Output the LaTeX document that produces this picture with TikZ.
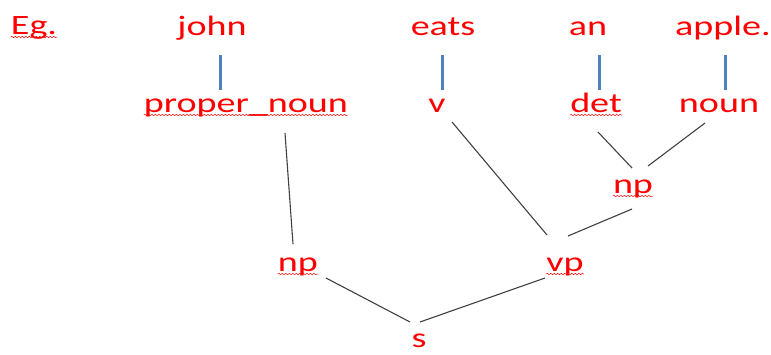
\documentclass[tikz,border=0pt]{standalone}
\usepackage{fontspec}
\setmainfont{Carlito}[FakeStretch=1.36]
\usetikzlibrary{decorations.pathmorphing}
\definecolor{wred}{RGB}{255,0,0}
\definecolor{oblue}{RGB}{79,129,189}
\begin{document}
\begin{tikzpicture}[x=1pt,y=-1pt,
  word/.style={anchor=base,inner sep=0pt,text=wred,font=\fontsize{28}{32}\selectfont},
  lexlink/.style={draw=oblue,line width=3pt},
  treelink/.style={draw=black!75,line width=1.1pt},
  spell/.style={draw=wred,line width=0.5pt,decorate,decoration={snake,segment length=3.5pt,amplitude=0.7pt}}]
\useasboundingbox (0,0) rectangle (771,354);
% words
\node[word] (eg) at (34,34) {Eg.};
\node[word] (john) at (212,35) {john};
\node[word] (eats) at (443,35) {eats};
\node[word] (an) at (588,35) {an};
\node[word] (apple) at (723,35) {apple.};
% tags
\node[word] (pn) at (246,112) {proper\_noun};
\node[word] (v) at (437,112) {v};
\node[word] (det) at (596,112) {det};
\node[word] (noun) at (719,112) {noun};
\node[word] (npR) at (633,193) {np};
\node[word] (npL) at (298,271) {np};
\node[word] (vp) at (565,271) {vp};
\node[word] (s) at (419,347) {s};
% lexical links
\draw[lexlink] ([shift={(8,20)}]john.base) -- ([shift={(-26,-22)}]pn.base);
\draw[lexlink] ([shift={(-1,20)}]eats.base) -- ([shift={(5,-22)}]v.base);
\draw[lexlink] ([shift={(11,20)}]an.base) -- ([shift={(3,-22)}]det.base);
\draw[lexlink] ([shift={(2,20)}]apple.base) -- ([shift={(6,-22)}]noun.base);
% tree links
\draw[treelink] ([shift={(39,21)}]pn.base) -- ([shift={(-5,-27)}]npL.base);
\draw[treelink] ([shift={(15,10)}]v.base) -- ([shift={(-18,-36)}]vp.base);
\draw[treelink] ([shift={(2,20)}]det.base) -- ([shift={(-1,-25)}]npR.base);
\draw[treelink] ([shift={(-14,11)}]noun.base) -- ([shift={(15,-27)}]npR.base);
\draw[treelink] ([shift={(-1,16)}]npR.base) -- ([shift={(3,-35)}]vp.base);
\draw[treelink] ([shift={(28,7)}]npL.base) -- ([shift={(-9,-25)}]s.base);
\draw[treelink] ([shift={(-20,7)}]vp.base) -- ([shift={(1,-25)}]s.base);
% spell-check underlines
\foreach \n in {eg,pn,det,npR,npL,vp}
  \draw[spell] ([shift={(0,3)}]\n.base west) -- ([shift={(0,3)}]\n.base east);
\end{tikzpicture}
\end{document}
